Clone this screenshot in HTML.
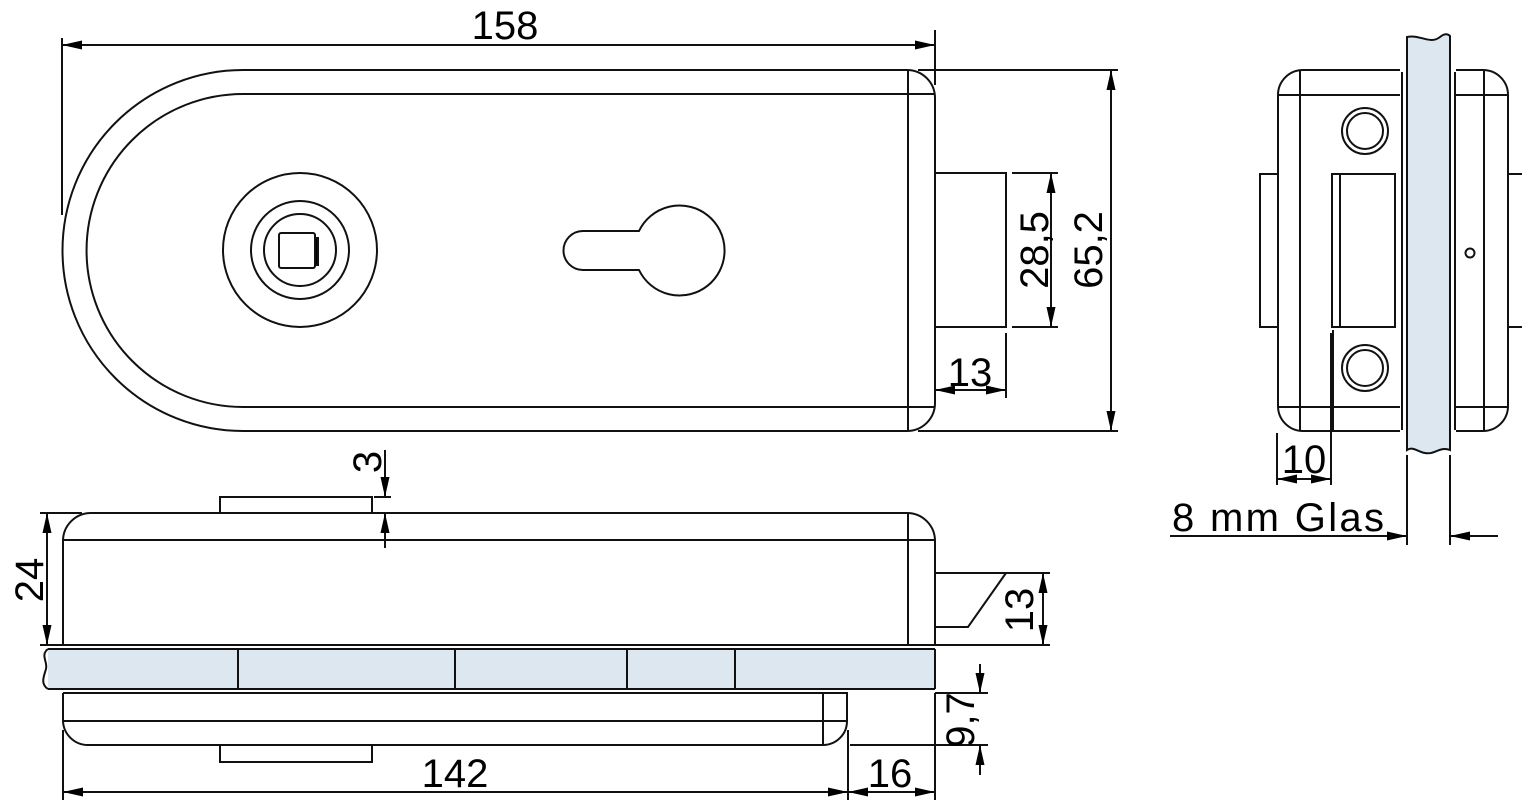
<!DOCTYPE html>
<html><head><meta charset="utf-8"><style>
html,body{margin:0;padding:0;background:#fff}
svg{display:block}
text{font-family:"Liberation Sans","DejaVu Sans",sans-serif;fill:#000}
</style></head><body>
<svg width="1522" height="800" viewBox="0 0 1522 800" xmlns="http://www.w3.org/2000/svg">
<defs>
<marker id="a" viewBox="0 0 20 9" refX="20" refY="4.5" markerWidth="20" markerHeight="9" markerUnits="userSpaceOnUse" orient="auto-start-reverse"><path d="M0,0 L20,4.5 L0,9 Z" fill="#000"/></marker>
</defs>
<g fill="none" stroke="#111" stroke-width="2">
<!-- TOP VIEW -->
<path d="M243,70 L907,70 A28,28 0 0 1 935,98 L935,403 A28,28 0 0 1 907,431 L243,431 A180.5,180.5 0 0 1 243,70 Z"/>
<path d="M243,94 L935,94 M935,407 L243,407 A156.5,156.5 0 0 1 243,94"/>
<line x1="908" y1="70" x2="908" y2="431"/>
<circle cx="300" cy="250" r="77"/>
<circle cx="300" cy="250" r="49"/>
<circle cx="300" cy="250" r="36"/>
<rect x="279" y="233" width="36" height="35" rx="2"/>
<rect x="315" y="238" width="3" height="27" fill="#000"/>
<path d="M639,231 L583,231 A19.5,19.5 0 0 0 583,270 L639,270 A45,45 0 1 0 639,231 Z"/>
<rect x="935" y="173" width="71" height="154"/>
<!-- dims top -->
<line x1="62" y1="45" x2="935" y2="45" marker-start="url(#a)" marker-end="url(#a)"/>
<line x1="62" y1="38" x2="62" y2="215"/>
<line x1="935" y1="30" x2="935" y2="85"/>
<line x1="918" y1="70" x2="1118" y2="70"/>
<line x1="918" y1="431" x2="1118" y2="431"/>
<line x1="1111" y1="70" x2="1111" y2="431" marker-start="url(#a)" marker-end="url(#a)"/>
<line x1="1012" y1="173" x2="1058" y2="173"/>
<line x1="1012" y1="327" x2="1058" y2="327"/>
<line x1="1051" y1="173" x2="1051" y2="327" marker-start="url(#a)" marker-end="url(#a)"/>
<line x1="1006" y1="333" x2="1006" y2="398"/>
<line x1="935" y1="390" x2="1006" y2="390" marker-start="url(#a)" marker-end="url(#a)"/>
<!-- SIDE VIEW -->
<path d="M63,645 L63,541 A28,28 0 0 1 91,513 L907,513 A28,28 0 0 1 935,541 L935,645"/>
<line x1="63" y1="540" x2="935" y2="540"/>
<line x1="908" y1="513" x2="908" y2="645"/>
<rect x="220" y="497" width="152" height="16"/>
<rect x="45" y="649" width="890" height="40" fill="#dde7f0" stroke="none"/>
<path d="M48,649 C40,655 48,662 46,669 C44,676 40,684 48,689" fill="#fff"/>
<line x1="48" y1="649" x2="935" y2="649"/>
<line x1="48" y1="689" x2="935" y2="689"/>
<line x1="935" y1="649" x2="935" y2="689"/>
<line x1="58" y1="645" x2="935" y2="645"/>
<line x1="63" y1="693" x2="848" y2="693"/>
<line x1="238" y1="649" x2="238" y2="689"/>
<line x1="455" y1="649" x2="455" y2="689"/>
<line x1="627" y1="649" x2="627" y2="689"/>
<line x1="735" y1="649" x2="735" y2="689"/>
<path d="M63,693 L63,721 A25,25 0 0 0 88,745 L823,745 A24,24 0 0 0 847,721 L847,693"/>
<line x1="63" y1="721" x2="847" y2="721"/>
<line x1="823" y1="693" x2="823" y2="745"/>
<rect x="220" y="745" width="152" height="17"/>
<path d="M935,573 L1050,573 M935,627 L968,627 L1006,573 M935,645 L1050,645"/>
<line x1="1043" y1="573" x2="1043" y2="645" marker-start="url(#a)" marker-end="url(#a)"/>
<line x1="40" y1="513" x2="82" y2="513"/>
<line x1="40" y1="645" x2="58" y2="645"/>
<line x1="47" y1="513" x2="47" y2="645" marker-start="url(#a)" marker-end="url(#a)"/>
<line x1="374" y1="497" x2="391" y2="497"/>
<line x1="385" y1="450" x2="385" y2="497" marker-end="url(#a)"/>
<line x1="385" y1="548" x2="385" y2="513" marker-end="url(#a)"/>
<line x1="935" y1="693" x2="988" y2="693"/>
<line x1="850" y1="745" x2="988" y2="745"/>
<line x1="980" y1="664" x2="980" y2="693" marker-end="url(#a)"/>
<line x1="980" y1="775" x2="980" y2="745" marker-end="url(#a)"/>
<line x1="63" y1="730" x2="63" y2="800"/>
<line x1="848" y1="730" x2="848" y2="800"/>
<line x1="935" y1="693" x2="935" y2="800"/>
<line x1="63" y1="792" x2="848" y2="792" marker-start="url(#a)" marker-end="url(#a)"/>
<line x1="848" y1="792" x2="935" y2="792" marker-start="url(#a)" marker-end="url(#a)"/>
<!-- RIGHT VIEW -->
<path d="M1400,70 L1303,70 A25,25 0 0 0 1278,95 L1278,406 A25,25 0 0 0 1303,431 L1400,431"/>
<line x1="1278" y1="95" x2="1400" y2="95"/>
<line x1="1278" y1="407" x2="1400" y2="407"/>
<line x1="1300" y1="70" x2="1300" y2="431"/>
<line x1="1333" y1="330" x2="1333" y2="431"/>
<rect x="1332" y="174" width="63" height="153"/>
<line x1="1340" y1="174" x2="1340" y2="327"/>
<circle cx="1365" cy="131" r="23"/><circle cx="1365" cy="131" r="18"/>
<circle cx="1365" cy="368" r="23"/><circle cx="1365" cy="368" r="18"/>
<rect x="1260" y="174" width="18" height="153"/>
<line x1="1402" y1="72" x2="1402" y2="430"/>
<line x1="1455" y1="72" x2="1455" y2="430"/>
<path d="M1407,37 C1420,34 1430,45 1440,37 C1445,33 1448,34 1450,36 L1450,450 C1440,446 1435,455 1425,453 C1418,452 1413,446 1407,450 Z" fill="#dde7f0"/>
<path d="M1456,70 L1483,70 A25,25 0 0 1 1508,95 L1508,406 A25,25 0 0 1 1483,431 L1456,431"/>
<line x1="1456" y1="95" x2="1508" y2="95"/>
<line x1="1456" y1="407" x2="1508" y2="407"/>
<line x1="1484" y1="70" x2="1484" y2="431"/>
<line x1="1508" y1="174" x2="1522" y2="174"/>
<line x1="1508" y1="327" x2="1522" y2="327"/>
<circle cx="1470" cy="253" r="4.5"/>
<line x1="1277" y1="433" x2="1277" y2="485"/>
<line x1="1331" y1="333" x2="1331" y2="485"/>
<line x1="1277" y1="479" x2="1331" y2="479" marker-start="url(#a)" marker-end="url(#a)"/>
<line x1="1407" y1="455" x2="1407" y2="545"/>
<line x1="1450" y1="455" x2="1450" y2="545"/>
<line x1="1170" y1="536" x2="1407" y2="536" marker-end="url(#a)"/>
<line x1="1498" y1="536" x2="1450" y2="536" marker-end="url(#a)"/>
</g>
<g font-size="40">
<text x="505" y="39" text-anchor="middle">158</text>
<text x="970" y="386" text-anchor="middle">13</text>
<text transform="translate(1048,250) rotate(-90)" text-anchor="middle">28,5</text>
<text transform="translate(1102,250) rotate(-90)" text-anchor="middle">65,2</text>
<text transform="translate(381,462) rotate(-90)" text-anchor="middle">3</text>
<text transform="translate(43,580) rotate(-90)" text-anchor="middle">24</text>
<text transform="translate(1033,610) rotate(-90)" text-anchor="middle">13</text>
<text transform="translate(974,720) rotate(-90)" text-anchor="middle">9,7</text>
<text x="455" y="787" text-anchor="middle">142</text>
<text x="890" y="787" text-anchor="middle">16</text>
<text x="1304" y="473" text-anchor="middle">10</text>
<text x="1172" y="531" textLength="212">8 mm Glas</text>
</g>
</svg>
</body></html>
